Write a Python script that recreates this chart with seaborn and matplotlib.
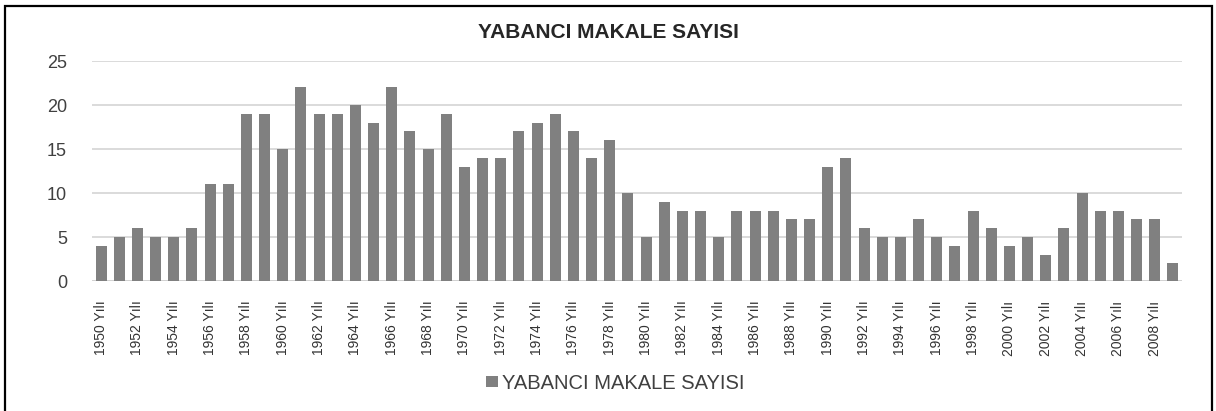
import matplotlib; matplotlib.use('agg')
import matplotlib.pyplot as plt
import seaborn as sns
import pandas as pd
from matplotlib.patches import Rectangle


sns.set(style="white")
plt.rcParams['font.family'] = ['Liberation Sans', 'DejaVu Sans']

# data
years = list(range(1950, 2010))
counts = [4, 5, 6, 5, 5, 6, 11, 11, 19, 19,
          15, 22, 19, 19, 20, 18, 22, 17, 15, 19,
          13, 14, 14, 17, 18, 19, 17, 14, 16, 10,
          5, 9, 8, 8, 5, 8, 8, 8, 7, 7,
          13, 14, 6, 5, 5, 7, 5, 4, 8, 6,
          4, 5, 3, 6, 10, 8, 8, 7, 7, 2]
year_labels = ['%d Yılı' % y for y in years]
series_name = 'YABANCI MAKALE SAYISI'
y_ticks = [0, 5, 10, 15, 20, 25]

df = pd.DataFrame({'yil': year_labels, 'sayi': counts})

fig = plt.figure(figsize=(12.16, 4.11), dpi=100)
ax = fig.add_axes([92 / 1216, 1 - 281 / 411, 1090 / 1216, 220 / 411])

sns.barplot(data=df, x='yil', y='sayi', color='#808080', saturation=1,
            width=0.6, linewidth=0, label=series_name, ax=ax)

ax.set_xlim(-0.5, len(years) - 0.5)
ax.set_ylim(0, 25)
ax.set_yticks(y_ticks)
ax.yaxis.grid(True, color='#d4d4d4', linewidth=1.2)
ax.set_axisbelow(True)
for s in ax.spines.values():
    s.set_visible(False)
ax.axhline(0, color='#bfbfbf', linewidth=1.2, zorder=0)

ax.set_xticks(range(0, len(years), 2))
ax.set_xticklabels(year_labels[::2], rotation=90, fontsize=10, color='#333333')
ax.tick_params(axis='x', length=0, pad=14)
ax.tick_params(axis='y', length=0, pad=18, labelsize=13, labelcolor='#404040')
ax.set_xlabel('')
ax.set_ylabel('')

fig.text(0.5, 1 - 32 / 411, series_name, ha='center', va='center',
         fontsize=15, fontweight='bold', color='#262626')

ax.legend(loc='center', bbox_to_anchor=(615 / 1216, 1 - 383 / 411),
          bbox_transform=fig.transFigure, frameon=False, fontsize=14.5,
          handlelength=0.6, handleheight=0.5, handletextpad=0.2,
          labelcolor='#404040')

# outer frame like the pasted excel chart
fig.patches.append(Rectangle((5 / 1216, -0.05), 1207 / 1216, 1.05 - 6 / 411,
                             transform=fig.transFigure, fill=False,
                             edgecolor='black', linewidth=1.6))

plt.savefig('out.png', dpi=100)
plt.close(fig)
